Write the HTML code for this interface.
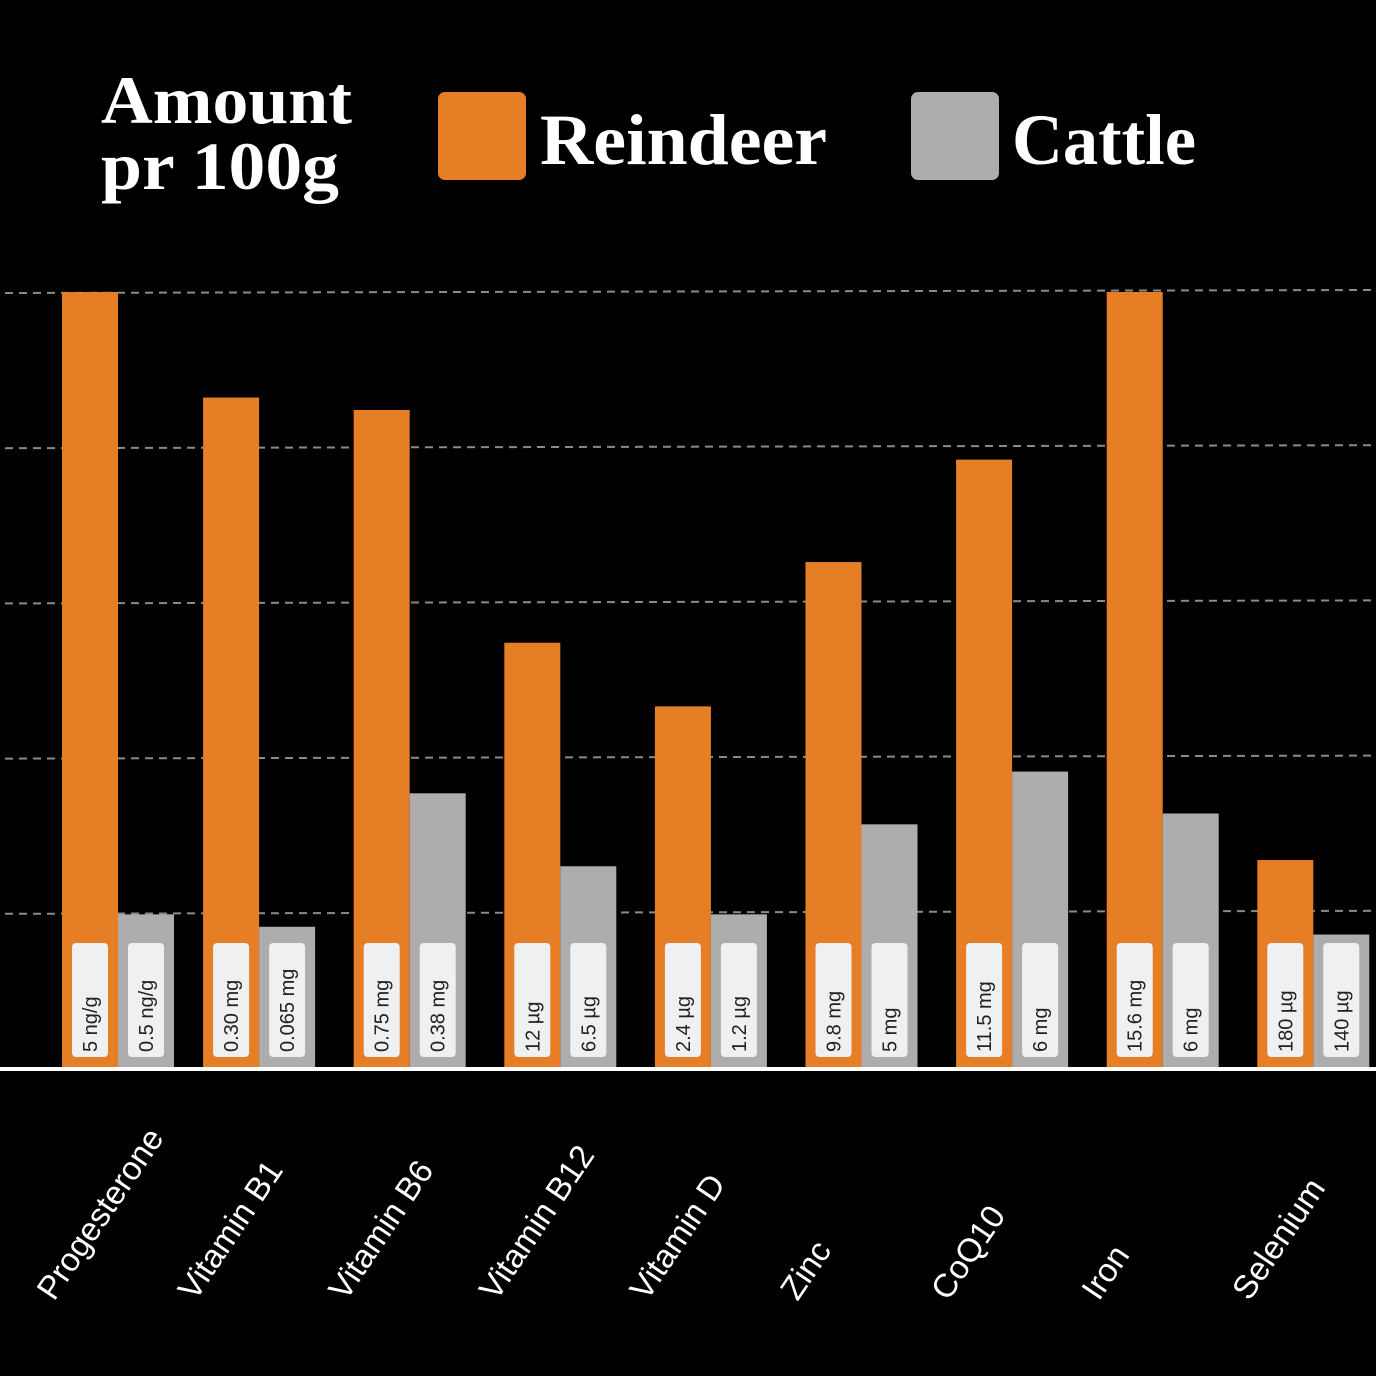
<!DOCTYPE html>
<html><head><meta charset="utf-8"><style>
html,body{margin:0;padding:0;background:#000;}
svg{display:block}
</style></head><body>
<svg id="chart" width="1376" height="1376" viewBox="0 0 1376 1376" xmlns="http://www.w3.org/2000/svg">
<rect x="0" y="0" width="1376" height="1376" fill="#000"/>
<g font-family="'Liberation Serif',serif" font-weight="bold" fill="#fff" font-size="68">
<text x="101" y="123" textLength="251" lengthAdjust="spacingAndGlyphs">Amount</text>
<text x="101" y="189" textLength="238" lengthAdjust="spacingAndGlyphs">pr 100g</text>
</g>
<g>
<rect x="438" y="92" width="88" height="88" rx="7" fill="#e67e25"/>
<text x="540" y="164" font-family="'Liberation Serif',serif" font-weight="bold" font-size="72" fill="#fff" textLength="287" lengthAdjust="spacingAndGlyphs">Reindeer</text>
<rect x="911" y="92" width="88" height="88" rx="7" fill="#adadad"/>
<text x="1012" y="164" font-family="'Liberation Serif',serif" font-weight="bold" font-size="72" fill="#fff" textLength="184" lengthAdjust="spacingAndGlyphs">Cattle</text>
</g>
<g id="grid"></g>
<g id="bars"></g>
<rect x="0" y="1067" width="1376" height="4" fill="#fff"/>
<g id="cats"></g>
</svg>
<script>
const categories = ["Progesterone","Vitamin B1","Vitamin B6","Vitamin B12","Vitamin D","Zinc","CoQ10","Iron","Selenium"];
const reindeerValues = [5.0,4.32,4.24,2.74,2.33,3.26,3.92,5.0,1.34];
const cattleValues = [0.99,0.91,1.77,1.30,0.99,1.57,1.91,1.64,0.86];
const reindeerLabels = ["5 ng/g","0.30 mg","0.75 mg","12 µg","2.4 µg","9.8 mg","11.5 mg","15.6 mg","180 µg"];
const cattleLabels = ["0.5 ng/g","0.065 mg","0.38 mg","6.5 µg","1.2 µg","5 mg","6 mg","6 mg","140 µg"];
const gridTicks = [1,2,3,4,5];

const NS = "http://www.w3.org/2000/svg";
const baseY = 1068, unit = 155.2;
const y = v => baseY - v * unit;
const step = 150.6, bw = 56;
const gx = i => i === 0 ? 62 : 52.5 + i * step;
function mk(tag, attrs, parent){const e=document.createElementNS(NS,tag);for(const k in attrs)e.setAttribute(k,attrs[k]);parent.appendChild(e);return e;}
const grid=document.getElementById('grid'), bars=document.getElementById('bars'), cats=document.getElementById('cats');
gridTicks.forEach(t=>{
  const l=mk('line',{x1:5,x2:1376,y1:y(t)+1,y2:y(t)-2,stroke:'#8a8a8a','stroke-width':2,'stroke-dasharray':'8 6'},grid);
  
  
});
categories.forEach((c,i)=>{
  const x=gx(i);
  const r=mk('rect',{x:x,y:y(reindeerValues[i]),width:bw,height:baseY-y(reindeerValues[i]),fill:'#e67e25'},bars);
  
  
  const cb=mk('rect',{x:x+bw,y:y(cattleValues[i]),width:bw,height:baseY-y(cattleValues[i]),fill:'#adadad'},bars);
  
  
  [[x,reindeerLabels[i],'reindeer'],[x+bw,cattleLabels[i],'cattle']].forEach(([bx,lab,s])=>{
    const b=mk('rect',{x:bx+10,y:943,width:36,height:114,rx:4,fill:'#eef0f2'},bars);
    
    
    const t=mk('text',{x:0,y:0,transform:`translate(${bx+35},1052) rotate(-90)`,'font-family':"'Liberation Sans',sans-serif",'font-size':20,fill:'#222'},bars);
    t.textContent=lab;
    
    
  });
  const ct=mk('text',{x:0,y:0,transform:`translate(${x-8},1302) rotate(-56)`,'text-anchor':'start','font-family':"'Liberation Sans',sans-serif",'font-size':33,fill:'#fff'},cats);
  ct.textContent=c;
  
  
});
</script>
</body></html>
